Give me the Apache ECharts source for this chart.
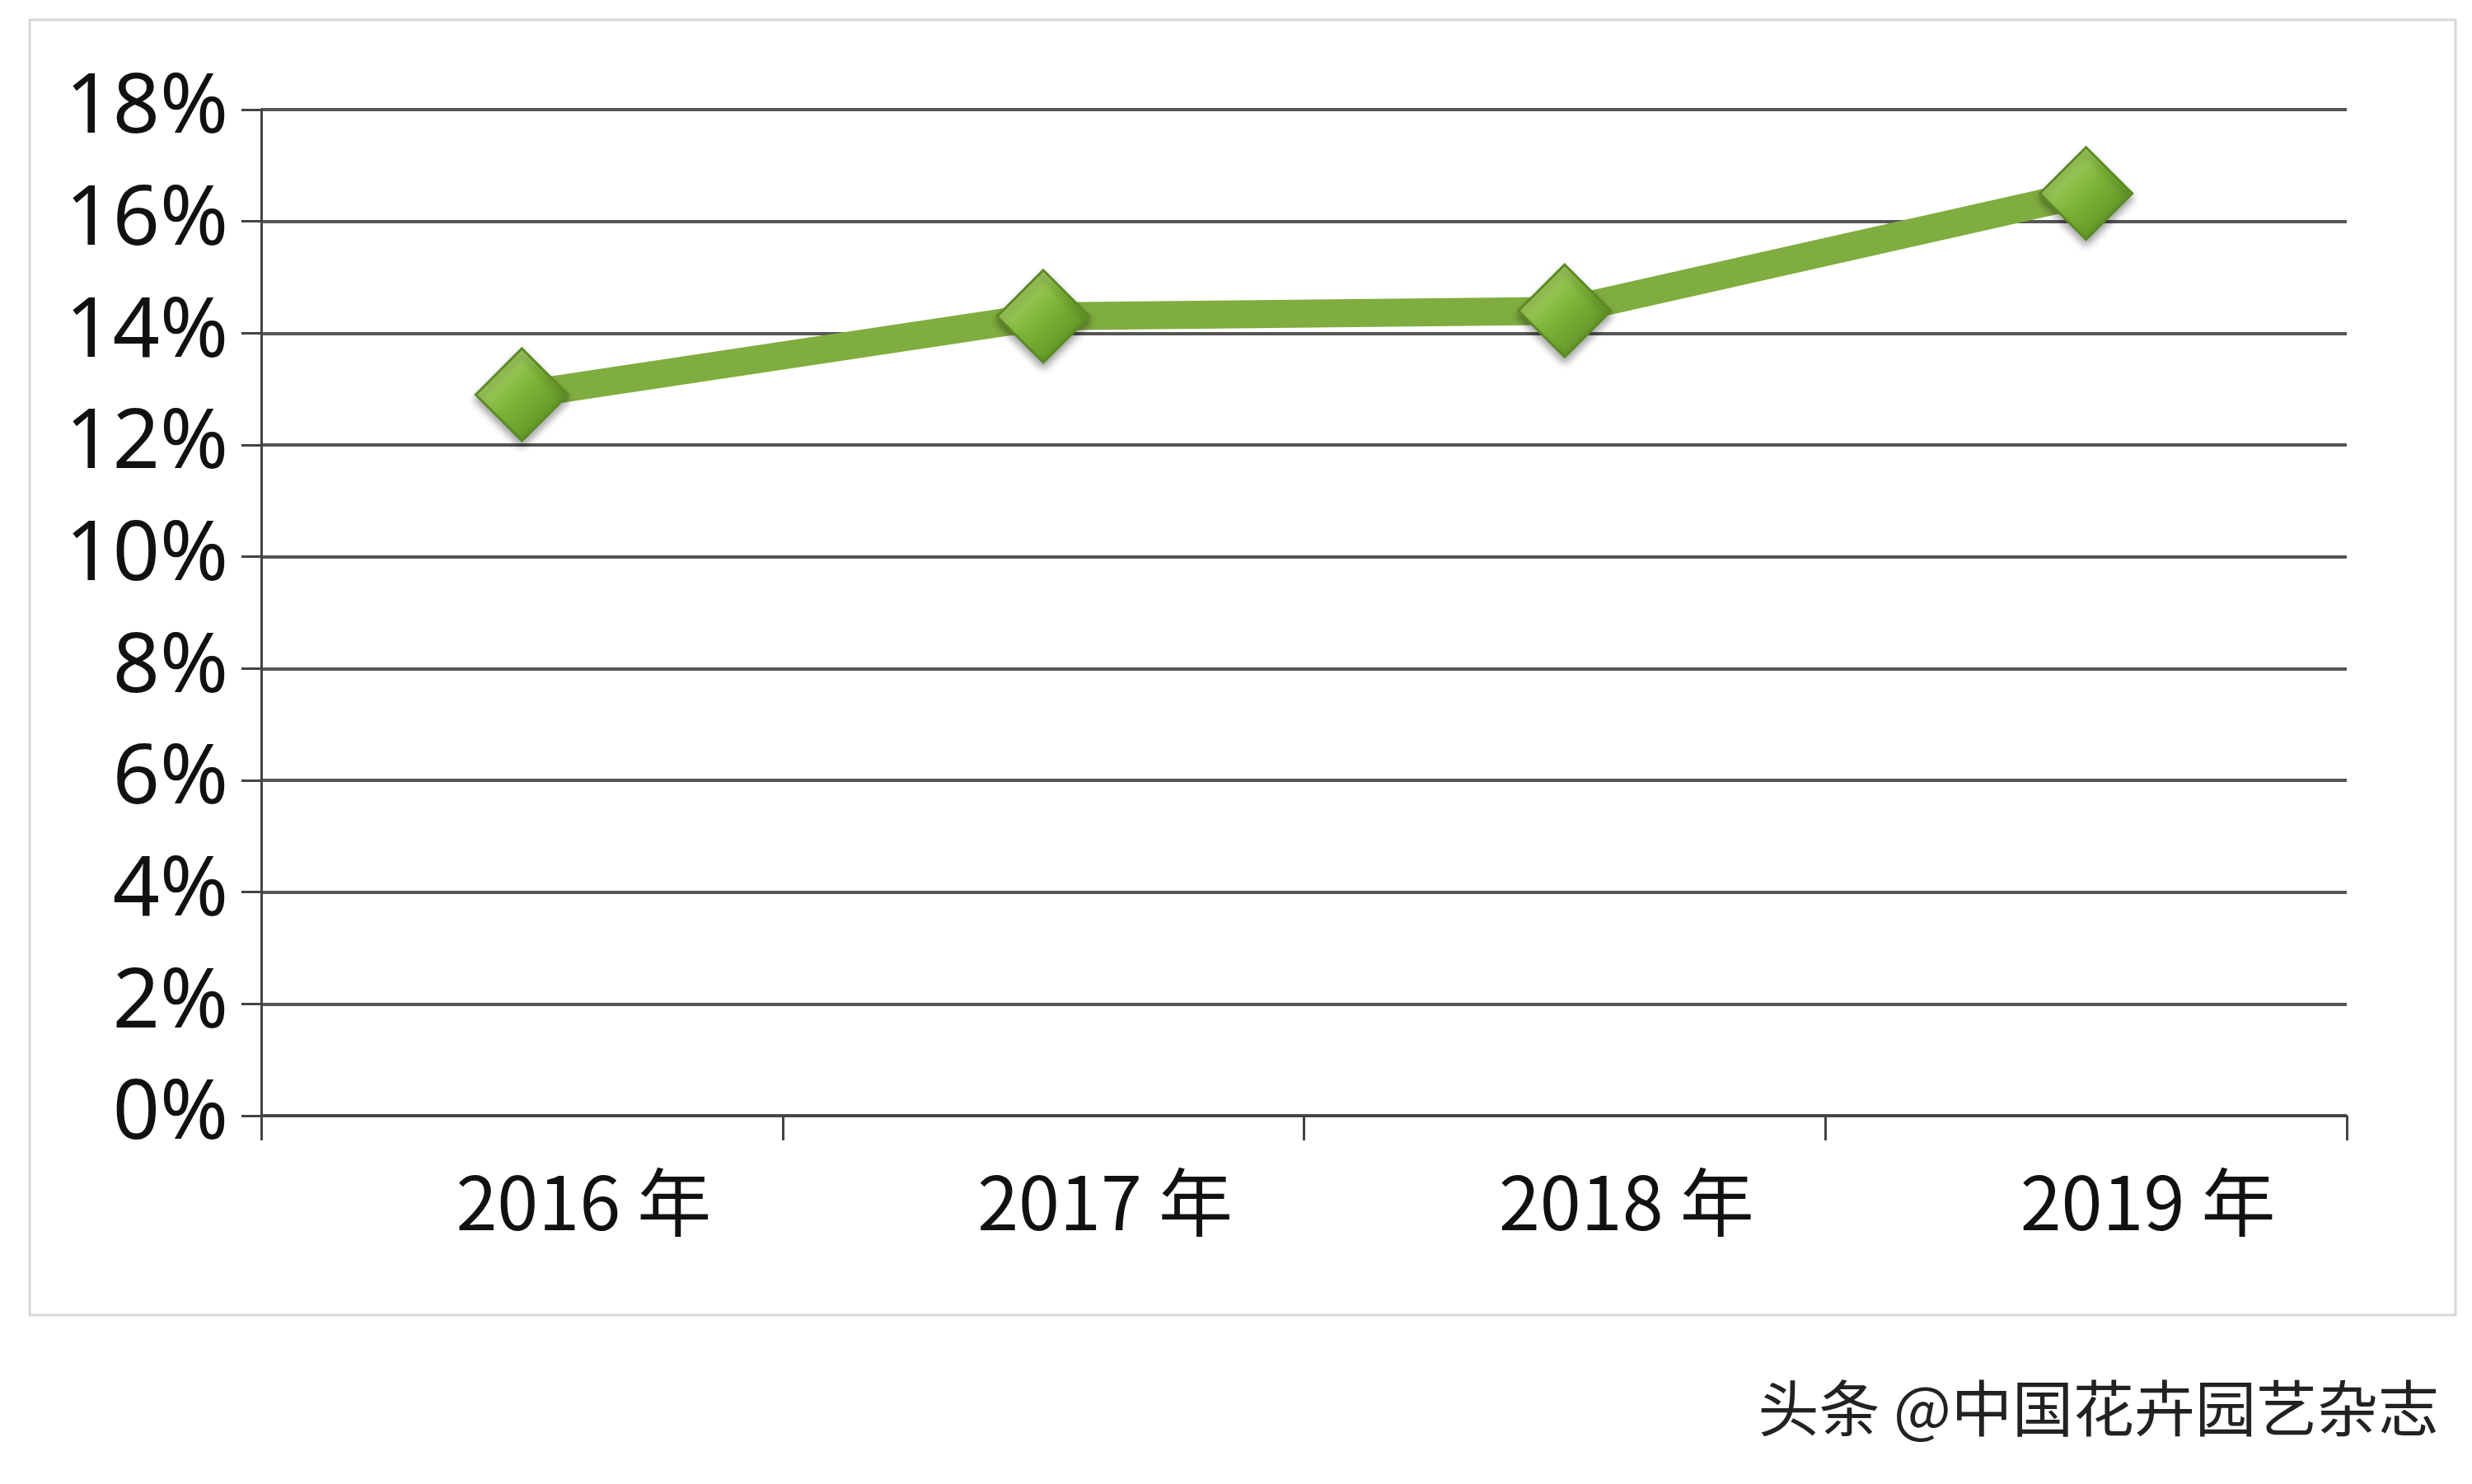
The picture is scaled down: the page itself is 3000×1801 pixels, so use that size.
<!DOCTYPE html>
<html><head><meta charset="utf-8">
<script src="https://cdn.jsdelivr.net/npm/echarts@6/dist/echarts.min.js"></script>
<style>html,body{margin:0;padding:0;background:#fff}#c{width:3000px;height:1801px}</style>
</head><body><div id="c"></div>
<script>
const categories = ['2016 年','2017 年','2018 年','2019 年'];
const values = [12.9, 14.3, 14.4, 16.5];
const yTicks = [0,2,4,6,8,10,12,14,16,18];
const watermark = '头条 @中国花卉园艺杂志';

const chart = echarts.init(document.getElementById('c'));
chart.setOption({
  backgroundColor:'#fff',
  animation:false,
  graphic:[
    {type:'rect',shape:{x:36,y:24,width:2944,height:1572},style:{fill:'none',stroke:'#d8d8d8',lineWidth:3},z:-1},
    {type:'text',right:40,top:1672,style:{text:watermark,font:'74px "Noto Sans CJK SC"',fill:'#222'}}
  ],
  grid:{left:317,right:152,top:133,height:1221},
  xAxis:{type:'category',data:categories,boundaryGap:true,
    axisLine:{lineStyle:{color:'#444',width:3}},
    axisTick:{show:true,length:30,lineStyle:{color:'#444',width:3}},
    axisLabel:{margin:60,fontSize:90,color:'#111',fontFamily:'"Noto Sans CJK SC"',padding:[0,0,0,150]}},
  yAxis:{type:'value',min:0,max:18,interval:2,
    axisLine:{show:true,lineStyle:{color:'#444',width:3}},
    axisTick:{show:true,length:24,lineStyle:{color:'#444',width:3}},
    splitLine:{lineStyle:{color:'#555',width:4}},
    axisLabel:{margin:40,fontSize:100,color:'#111',fontFamily:'"Noto Sans"',
      formatter:v=>yTicks.includes(v)?v+'%':''}},
  series:[{type:'line',data:values,
    lineStyle:{color:'#80ad3f',width:34},
    symbol:'diamond',symbolSize:[112,112],
    itemStyle:{color:new echarts.graphic.LinearGradient(0,0,1,1,[{offset:0,color:'#c8e58a'},{offset:0.5,color:'#7cb436'},{offset:1,color:'#4d7f1c'}]),
      borderColor:'#5c8a25',borderWidth:3,shadowColor:'rgba(0,0,0,0.35)',shadowBlur:10,shadowOffsetY:6}}]
});
</script></body></html>
